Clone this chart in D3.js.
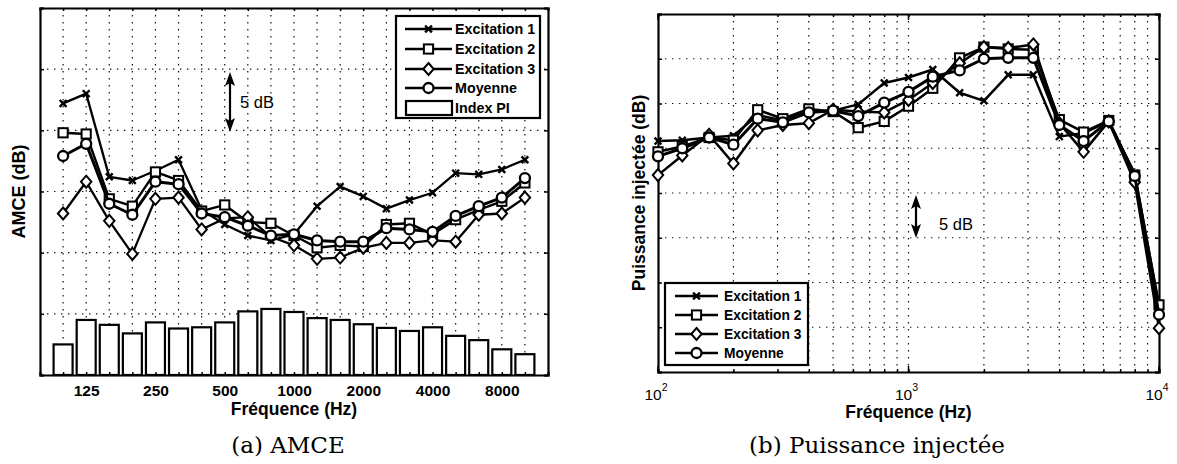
<!DOCTYPE html>
<html>
<head>
<meta charset="utf-8">
<script src="https://cdn.jsdelivr.net/npm/d3@7"></script>
<style>
  html, body { margin: 0; padding: 0; background: #fff; }
  svg text { font-family: "Liberation Sans", Arial, sans-serif; fill: #000; }
  svg text.caption { font-family: "DejaVu Serif", "Liberation Serif", serif; }
</style>
</head>
<body>
<svg id="fig" width="1177" height="464"></svg>
<script>
// Third-octave band centre frequencies (Hz)
const freqs = [100, 125, 160, 200, 250, 315, 400, 500, 630, 800, 1000,
               1250, 1600, 2000, 2500, 3150, 4000, 5000, 6300, 8000, 10000];
// Frequencies labelled on the AMCE axis
const amceTickLabels = [125, 250, 500, 1000, 2000, 4000, 8000];

// (a) AMCE, relative dB
const amceExc1 = [22.2, 23.0, 16.2, 15.9, 16.7, 17.6, 13.5, 12.3, 11.4, 11.0, 11.5,
                  13.8, 15.4, 14.6, 13.6, 14.3, 14.9, 16.5, 16.4, 16.8, 17.6];
const amceExc2 = [19.8, 19.7, 14.4, 13.8, 16.6, 15.9, 13.4, 13.9, 12.5, 12.4, 11.4,
                  10.4, 10.6, 10.5, 12.3, 12.4, 11.5, 12.7, 13.5, 14.2, 15.7];
const amceExc3 = [13.2, 15.8, 12.6, 9.9, 14.4, 14.5, 11.9, 12.8, 12.9, 11.3, 10.6,
                  9.5, 9.6, 10.4, 10.8, 10.8, 11.0, 10.9, 13.1, 13.2, 14.5];
const amceMoy  = [17.9, 18.9, 14.0, 13.1, 15.8, 15.6, 13.2, 12.9, 12.2, 11.4, 11.5,
                  11.0, 10.9, 10.9, 12.0, 11.9, 11.7, 13.0, 13.8, 14.5, 16.1];
const indexPI  = [2.5, 4.5, 4.1, 3.4, 4.3, 3.8, 3.9, 4.3, 5.2, 5.4, 5.15,
                  4.65, 4.5, 4.15, 3.85, 3.6, 3.9, 3.2, 2.85, 2.1, 1.7];

// (b) Puissance injectée, relative dB
const powExc1 = [25.8, 25.9, 26.2, 26.4, 28.7, 28.1, 29.1, 29.2, 29.9, 32.3, 32.9,
                 33.8, 31.2, 30.3, 33.2, 33.2, 26.3, 26.7, 28.0, 22.2, 7.3];
const powExc2 = [24.6, 25.2, 26.2, 25.9, 29.3, 28.3, 29.4, 29.1, 27.3, 28.0, 29.7,
                 31.7, 35.1, 36.3, 36.1, 36.0, 28.2, 26.8, 28.1, 22.0, 7.5];
const powExc3 = [22.0, 24.2, 26.5, 23.3, 27.0, 27.6, 27.8, 29.3, 29.1, 29.0, 30.4,
                 32.3, 34.5, 36.3, 36.2, 36.6, 27.8, 24.6, 28.0, 21.2, 4.9];
const powMoy  = [24.1, 25.0, 26.2, 25.4, 28.3, 27.9, 29.0, 29.2, 28.6, 30.1, 31.3,
                 33.0, 33.7, 35.0, 35.1, 35.1, 27.6, 25.8, 28.0, 21.9, 6.4];
const powTickExponents = [2, 3, 4];

const seriesNames = ["Excitation 1", "Excitation 2", "Excitation 3", "Moyenne"];
const markerKinds = ["x", "square", "diamond", "circle"];

const svg = d3.select("#fig");

// ---------- marker drawing ----------
function drawMarker(g, kind, x, y) {
  if (kind === "x") {
    const s = 3.4;
    g.append("path").attr("d", `M${x - s},${y - s}L${x + s},${y + s}M${x - s},${y + s}L${x + s},${y - s}`)
      .attr("stroke", "#000").attr("stroke-width", 2.4).attr("fill", "none");
  } else if (kind === "square") {
    const s = 4.6;
    g.append("rect").attr("x", x - s).attr("y", y - s).attr("width", 2 * s).attr("height", 2 * s)
      .attr("fill", "#fff").attr("stroke", "#000").attr("stroke-width", 2);
  } else if (kind === "diamond") {
    const w = 5.2, h = 6;
    g.append("path").attr("d", `M${x},${y - h}L${x + w},${y}L${x},${y + h}L${x - w},${y}Z`)
      .attr("fill", "#fff").attr("stroke", "#000").attr("stroke-width", 2);
  } else {
    g.append("circle").attr("cx", x).attr("cy", y).attr("r", 5)
      .attr("fill", "#fff").attr("stroke", "#000").attr("stroke-width", 2.3);
  }
}

function drawSeries(g, xs, ys, values, kind, width) {
  const pts = values.map((v, i) => [xs(i), ys(v)]);
  g.append("path").attr("d", d3.line()(pts))
    .attr("fill", "none").attr("stroke", "#000").attr("stroke-width", width)
    .attr("stroke-linejoin", "round");
  const mg = g.append("g");
  pts.forEach(p => drawMarker(mg, kind, p[0], p[1]));
}

function doubleArrow(g, x, y1, y2) {
  g.append("line").attr("x1", x).attr("x2", x).attr("y1", y1 + 8).attr("y2", y2 - 8)
    .attr("stroke", "#000").attr("stroke-width", 2.2);
  g.append("path").attr("d", `M${x},${y1}L${x + 5},${y1 + 14}L${x},${y1 + 11}L${x - 5},${y1 + 14}Z`);
  g.append("path").attr("d", `M${x},${y2}L${x + 5},${y2 - 14}L${x},${y2 - 11}L${x - 5},${y2 - 14}Z`);
}

// dotted grid lines
const gridStyle = sel => sel.attr("stroke", "#111").attr("stroke-width", 1.2)
  .attr("stroke-dasharray", "1.4,5.6");

// =====================================================================
// (a) AMCE
// =====================================================================
{
  const L = 40, R = 548, T = 8, B = 375;
  const x = d3.scalePoint().domain(freqs).range([L, R]).padding(1);
  const xi = i => x(freqs[i]);
  const y = d3.scaleLinear().domain([0, 30]).range([B, T]);
  const g = svg.append("g");

  // grid
  const grid = g.append("g");
  freqs.forEach(f => grid.append("line").attr("x1", x(f)).attr("x2", x(f)).attr("y1", T).attr("y2", B).call(gridStyle));
  y.ticks(6).filter(v => v > 0 && v < 30).forEach(v =>
    grid.append("line").attr("x1", L).attr("x2", R).attr("y1", y(v)).attr("y2", y(v)).call(gridStyle));

  // Index PI bars
  const bw = 19;
  g.append("g").selectAll("rect").data(indexPI).join("rect")
    .attr("x", (d, i) => xi(i) - bw / 2).attr("width", bw)
    .attr("y", d => y(d)).attr("height", d => y(0) - y(d))
    .attr("fill", "#fff").attr("stroke", "#000").attr("stroke-width", 2.2);

  // axes (ticks only, inward)
  const axL = d3.axisLeft(y).ticks(6).tickSize(-4).tickFormat("");
  const axR = d3.axisRight(y).ticks(6).tickSize(-4).tickFormat("");
  const axB = d3.axisBottom(x).tickSize(-3).tickFormat(f => amceTickLabels.includes(f) ? f : "").tickPadding(10);
  const axT = d3.axisTop(x).tickSize(-3).tickFormat("");
  [[axL, `translate(${L},0)`], [axR, `translate(${R},0)`], [axB, `translate(0,${B})`], [axT, `translate(0,${T})`]]
    .forEach(([ax, tr]) => {
      const a = g.append("g").attr("transform", tr).call(ax);
      a.select(".domain").attr("stroke-width", 2.2);
      a.selectAll(".tick line").attr("stroke-width", 1.5);
      a.selectAll("text").attr("font-size", 15.5).attr("font-weight", "bold");
    });

  // data lines
  const lg = g.append("g");
  drawSeries(lg, xi, y, amceExc1, "x", 2.3);
  drawSeries(lg, xi, y, amceExc2, "square", 2.4);
  drawSeries(lg, xi, y, amceExc3, "diamond", 2.3);
  drawSeries(lg, xi, y, amceMoy, "circle", 3);

  // 5 dB scale marker
  doubleArrow(g, 230, 72, 132);
  g.append("text").attr("x", 240).attr("y", 108).attr("font-size", 16.5).text("5 dB");

  // legend
  const lgd = g.append("g");
  lgd.append("rect").attr("x", 396).attr("y", 16).attr("width", 144).attr("height", 102)
    .attr("fill", "#fff").attr("stroke", "#000").attr("stroke-width", 2.2);
  const rows = [29, 49, 69, 88];
  seriesNames.forEach((name, i) => {
    lgd.append("line").attr("x1", 405).attr("x2", 452).attr("y1", rows[i]).attr("y2", rows[i])
      .attr("stroke", "#000").attr("stroke-width", 2.4);
    drawMarker(lgd, markerKinds[i], 428.5, rows[i]);
    lgd.append("text").attr("x", 455).attr("y", rows[i] + 5).attr("font-size", 14.3)
      .attr("font-weight", "bold").text(name);
  });
  lgd.append("rect").attr("x", 406).attr("y", 101).attr("width", 46).attr("height", 14)
    .attr("fill", "#fff").attr("stroke", "#000").attr("stroke-width", 2.2);
  lgd.append("text").attr("x", 455).attr("y", 113).attr("font-size", 14.3)
    .attr("font-weight", "bold").text("Index PI");

  // axis titles
  g.append("text").attr("x", (L + R) / 2).attr("y", 415).attr("text-anchor", "middle")
    .attr("font-size", 17.5).attr("font-weight", "bold").text("Fréquence (Hz)");
  g.append("text").attr("transform", `translate(25,${(T + B) / 2}) rotate(-90)`)
    .attr("text-anchor", "middle").attr("font-size", 18).attr("font-weight", "bold").text("AMCE (dB)");

  g.append("text").attr("class", "caption").attr("x", 288).attr("y", 453).attr("text-anchor", "middle")
    .attr("font-size", 23).text("(a) AMCE");
}

// =====================================================================
// (b) Puissance injectée
// =====================================================================
{
  const L = 658, R = 1159, T = 14, B = 372;
  const x = d3.scaleLog().domain([100, 10000]).range([L, R]);
  const xi = i => x(freqs[i]);
  const y = d3.scaleLinear().domain([0, 40]).range([B, T]);
  const g = svg.append("g");

  const minor = [];
  [100, 1000].forEach(dec => { for (let k = 2; k <= 9; k++) minor.push(dec * k); });

  const grid = g.append("g");
  minor.concat([1000]).forEach(f =>
    grid.append("line").attr("x1", x(f)).attr("x2", x(f)).attr("y1", T).attr("y2", B).call(gridStyle));
  y.ticks(8).filter(v => v > 0 && v < 40).forEach(v =>
    grid.append("line").attr("x1", L).attr("x2", R).attr("y1", y(v)).attr("y2", y(v)).call(gridStyle));

  const allTicks = [100, 1000, 10000].concat(minor);
  const axL = d3.axisLeft(y).ticks(8).tickSize(-4).tickFormat("");
  const axR = d3.axisRight(y).ticks(8).tickSize(-4).tickFormat("");
  const axB = d3.axisBottom(x).tickValues(allTicks).tickSize(-3).tickFormat("");
  const axT = d3.axisTop(x).tickValues(allTicks).tickSize(-3).tickFormat("");
  [[axL, `translate(${L},0)`], [axR, `translate(${R},0)`], [axB, `translate(0,${B})`], [axT, `translate(0,${T})`]]
    .forEach(([ax, tr]) => {
      const a = g.append("g").attr("transform", tr).call(ax);
      a.select(".domain").attr("stroke-width", 2.2);
      a.selectAll(".tick line").attr("stroke-width", 1.5);
    });
  // longer ticks at the decades
  [100, 1000, 10000].forEach(f => {
    g.append("line").attr("x1", x(f)).attr("x2", x(f)).attr("y1", B).attr("y2", B - 6).attr("stroke", "#000").attr("stroke-width", 1.5);
    g.append("line").attr("x1", x(f)).attr("x2", x(f)).attr("y1", T).attr("y2", T + 6).attr("stroke", "#000").attr("stroke-width", 1.5);
  });

  // decade labels 10^n
  powTickExponents.forEach(e => {
    const t = g.append("text").attr("x", x(Math.pow(10, e)) - 2).attr("y", 400).attr("text-anchor", "middle")
      .attr("font-size", 15.5);
    t.append("tspan").text("10");
    t.append("tspan").attr("dy", -9).attr("font-size", 10.5).text(String(e));
  });

  const lg = g.append("g");
  drawSeries(lg, xi, y, powExc1, "x", 2.5);
  drawSeries(lg, xi, y, powExc2, "square", 2.5);
  drawSeries(lg, xi, y, powExc3, "diamond", 2.5);
  drawSeries(lg, xi, y, powMoy, "circle", 3);

  doubleArrow(g, 916, 195, 238);
  g.append("text").attr("x", 939).attr("y", 230).attr("font-size", 16.5).text("5 dB");

  // legend
  const lgd = g.append("g");
  lgd.append("rect").attr("x", 665).attr("y", 283).attr("width", 143).attr("height", 82)
    .attr("fill", "#fff").attr("stroke", "#000").attr("stroke-width", 2.2);
  const rows = [296, 315, 334, 353];
  seriesNames.forEach((name, i) => {
    lgd.append("line").attr("x1", 675).attr("x2", 718).attr("y1", rows[i]).attr("y2", rows[i])
      .attr("stroke", "#000").attr("stroke-width", 2.4);
    drawMarker(lgd, markerKinds[i], 696.5, rows[i]);
    lgd.append("text").attr("x", 724).attr("y", rows[i] + 5).attr("font-size", 13.8)
      .attr("font-weight", "bold").text(name);
  });

  g.append("text").attr("x", (L + R) / 2).attr("y", 418).attr("text-anchor", "middle")
    .attr("font-size", 17.5).attr("font-weight", "bold").text("Fréquence (Hz)");
  g.append("text").attr("transform", `translate(645,${(T + B) / 2}) rotate(-90)`)
    .attr("text-anchor", "middle").attr("font-size", 17.5).attr("font-weight", "bold").text("Puissance injectée (dB)");

  g.append("text").attr("class", "caption").attr("x", 877).attr("y", 453).attr("text-anchor", "middle")
    .attr("font-size", 23).text("(b) Puissance injectée");
}
</script>
</body>
</html>
